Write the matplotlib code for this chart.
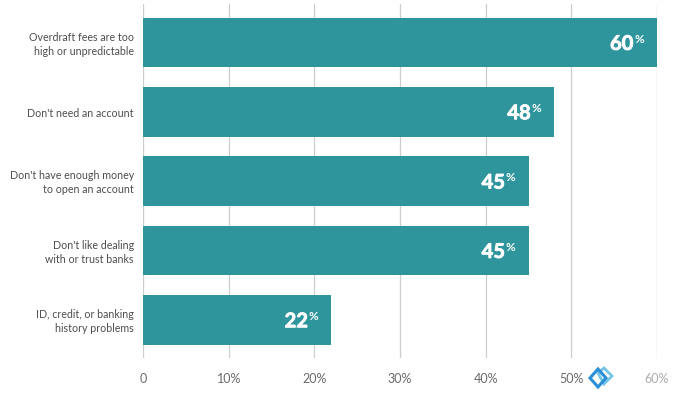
import matplotlib
matplotlib.use("Agg")
import matplotlib.pyplot as plt
import matplotlib.patheffects as pe
from matplotlib.patches import Polygon
from matplotlib.transforms import ScaledTranslation

plt.rcParams["font.family"] = ["Lato", "DejaVu Sans"]
plt.rcParams["ytick.alignment"] = "center"

categories = [
    "Overdraft fees are too\nhigh or unpredictable",
    "Don't need an account",
    "Don't have enough money\nto open an account",
    "Don't like dealing\nwith or trust banks",
    "ID, credit, or banking\nhistory problems",
]
values = [60, 48, 45, 45, 22]
x_ticks = [0, 10, 20, 30, 40, 50, 60]
x_labels = ["0", "10%", "20%", "30%", "40%", "50%", "60%"]

W, H = 676, 396
fig = plt.figure(figsize=(W / 100, H / 100), dpi=100)
ax = fig.add_axes([143 / W, 1 - 358 / H, (657 - 143) / W, (358 - 4) / H])

# bars
ax.barh(range(5), values, height=0.72, color="#2f959d", zorder=2)
ax.set_xlim(0, 60)
ax.set_ylim(4.55, -0.555)

# grid
ax.set_xticks(x_ticks)
ax.set_xticklabels(x_labels, fontsize=9, color="#6a6a6a")
ax.grid(axis="x", color="#cdcdcd", linewidth=0.9, zorder=1)
ax.set_axisbelow(True)
ax.set_yticks(range(5))
ax.set_yticklabels(categories, fontsize=7.7, color="#4d4d4d", linespacing=1.35, ha="right")
ax.tick_params(axis="x", length=0, pad=10.5)
ax.tick_params(axis="y", length=0, pad=6.5)
for s in ax.spines.values():
    s.set_visible(False)
ax.get_xticklabels()[-1].set_alpha(0.55)

# nudge category labels down a little
nudge = ScaledTranslation(0, -1.2 / 72, fig.dpi_scale_trans)
for lab in ax.get_yticklabels():
    lab.set_transform(lab.get_transform() + nudge)

# value labels
thick = [pe.withStroke(linewidth=0.6, foreground="white")]
for i, v in enumerate(values):
    ax.annotate(str(v), (v, i), xytext=(-17, -1), textcoords="offset points", ha="right", va="center",
                color="white", fontsize=14.5, fontweight="bold", zorder=3, path_effects=thick)
    ax.annotate("%", (v, i), xytext=(-9.5, 2.5), textcoords="offset points", ha="right", va="center",
                color="white", fontsize=8.5, fontweight="bold", zorder=3)

# watermark
dark = [(590, 378), (598, 369), (606, 378), (598, 387)]
light = [(598, 373), (604, 368), (612, 376), (604, 384)]
fig.add_artist(Polygon([(x / W, 1 - y / H) for x, y in light], closed=True, fill=False, edgecolor="#74c5e8",
                       linewidth=2, transform=fig.transFigure))
fig.add_artist(Polygon([(x / W, 1 - y / H) for x, y in dark], closed=True, fill=False, edgecolor="#2b8fd6",
                       linewidth=2.2, transform=fig.transFigure))

fig.savefig("out.png", dpi=100)
